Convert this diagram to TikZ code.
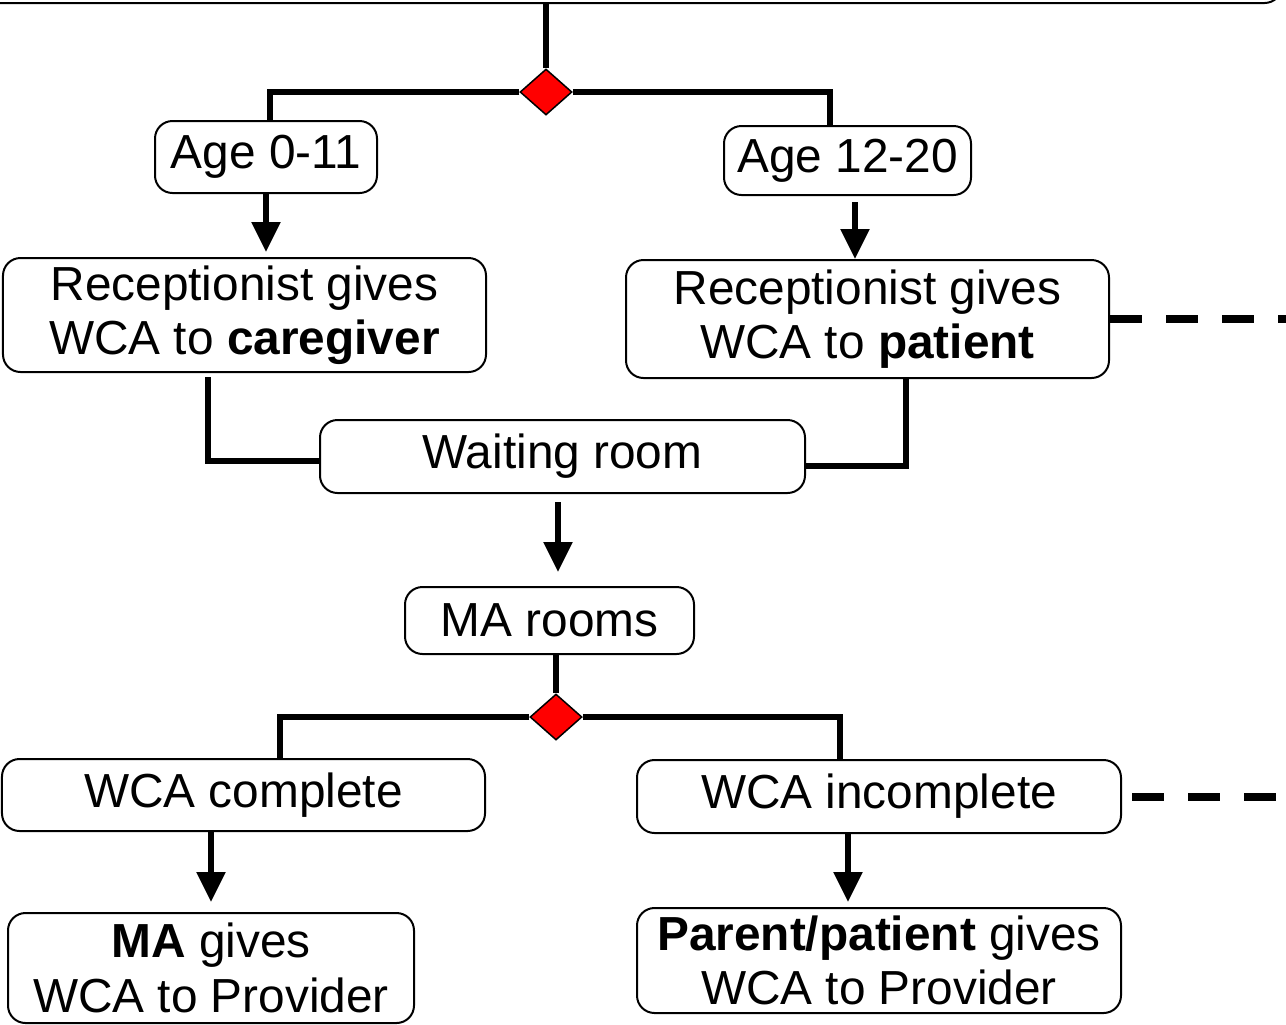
\documentclass[tikz,border=0pt]{standalone}
\usepackage{fontspec}
\setmainfont{Liberation Sans}
\usetikzlibrary{shapes.geometric,arrows.meta}
\tikzset{
  stepbox/.style={draw,rounded corners=0.35cm,line width=0.04cm,align=center,inner sep=0pt,font=\fontsize{27.2}{31}\selectfont},
  choice/.style={draw,diamond,fill=red,line width=0.03cm,minimum width=1.04cm,minimum height=0.92cm,inner sep=0pt},
  link/.style={line width=0.11cm},
  flow/.style={line width=0.11cm,-{Triangle[length=0.6cm,width=0.56cm]}},
  loose/.style={line width=0.16cm,dash pattern=on 0.64cm off 0.48cm}
}
\begin{document}
\begin{tikzpicture}
                \useasboundingbox (0,0) rectangle (25.72,-20.48);
                \clip (0,0) rectangle (25.72,-20.48);
                \draw[rounded corners=0.35cm,line width=0.04cm] (-1,2) rectangle (25.64,-0.06);
                \coordinate (topedge) at (10.92,-0.06);
                \coordinate (rim) at (25.72,0);
                \node[choice] (d1) at (10.92,-1.84) {};
                \coordinate (k1) at (5.4,-1.84);
                \coordinate (k2) at (16.6,-1.84);
                \node[stepbox,minimum width=4.44cm,minimum height=1.44cm] (age1) at (5.32,-3.14) {Age 0-11};
                \node[stepbox,minimum width=4.94cm,minimum height=1.38cm] (age2) at (16.95,-3.21) {Age 12-20};
                \node[stepbox,minimum width=9.66cm,minimum height=2.28cm] (rec1) at (4.89,-6.3) {Receptionist gives\\WCA to \textbf{caregiver}};
                \node[stepbox,minimum width=9.66cm,minimum height=2.36cm] (rec2) at (17.35,-6.38) {Receptionist gives\\WCA to \textbf{patient}};
                \node[stepbox,minimum width=9.7cm,minimum height=1.46cm] (wait) at (11.25,-9.13) {Waiting room};
                \node[stepbox,minimum width=5.78cm,minimum height=1.34cm] (ma) at (10.99,-12.41) {MA rooms};
                \node[choice] (d2) at (11.12,-14.34) {};
                \coordinate (k3) at (5.6,-14.34);
                \coordinate (k4) at (16.8,-14.34);
                \node[stepbox,minimum width=9.66cm,minimum height=1.44cm] (comp) at (4.87,-15.9) {WCA complete};
                \node[stepbox,minimum width=9.68cm,minimum height=1.46cm] (inc) at (17.58,-15.93) {WCA incomplete};
                \node[stepbox,minimum width=8.12cm,minimum height=2.2cm] (maprov) at (4.22,-19.36) {\textbf{MA} gives\\WCA to Provider};
                \node[stepbox,minimum width=9.68cm,minimum height=2.1cm] (parprov) at (17.58,-19.21) {\textbf{Parent/patient} gives\\WCA to Provider};

                \draw[link] (topedge)--(d1.north);
                \draw[link] (d1.west)--(k1)--(k1 |- age1.north);
                \draw[link] (d1.east)--(k2)--(k2 |- age2.north);
                \draw[flow] (age1.south)--([yshift=0.1cm]age1.south |- rec1.north);
                \draw[flow] ([xshift=0.15cm,yshift=-0.12cm]age2.south)--([xshift=0.15cm]age2.south |- rec2.north);
                \draw[link] ([xshift=-0.73cm,yshift=-0.08cm]rec1.south) |- ([yshift=-0.09cm]wait.west);
                \draw[link] ([xshift=0.77cm]rec2.south) |- ([yshift=-0.19cm]wait.east);
                \draw[flow] ([xshift=-0.09cm,yshift=-0.16cm]wait.south)--([xshift=-0.09cm,yshift=0.28cm]wait.south |- ma.north);
                \draw[link] (d2.north |- ma.south)--(d2.north);
                \draw[link] (d2.west)--(k3)--(k3 |- comp.north);
                \draw[link] (d2.east)--(k4)--(k4 |- inc.north);
                \draw[flow] (maprov.north |- comp.south)--([yshift=0.2cm]maprov.north);
                \draw[flow] ([xshift=-0.62cm]inc.south)--([xshift=-0.62cm,yshift=0.1cm]inc.south |- parprov.north);
                \draw[loose] (rec2.east)--(rec2.east -| rim);
                \draw[loose] ([xshift=0.2cm]inc.east)--(inc.east -| rim);

            \end{tikzpicture}
\end{document}
